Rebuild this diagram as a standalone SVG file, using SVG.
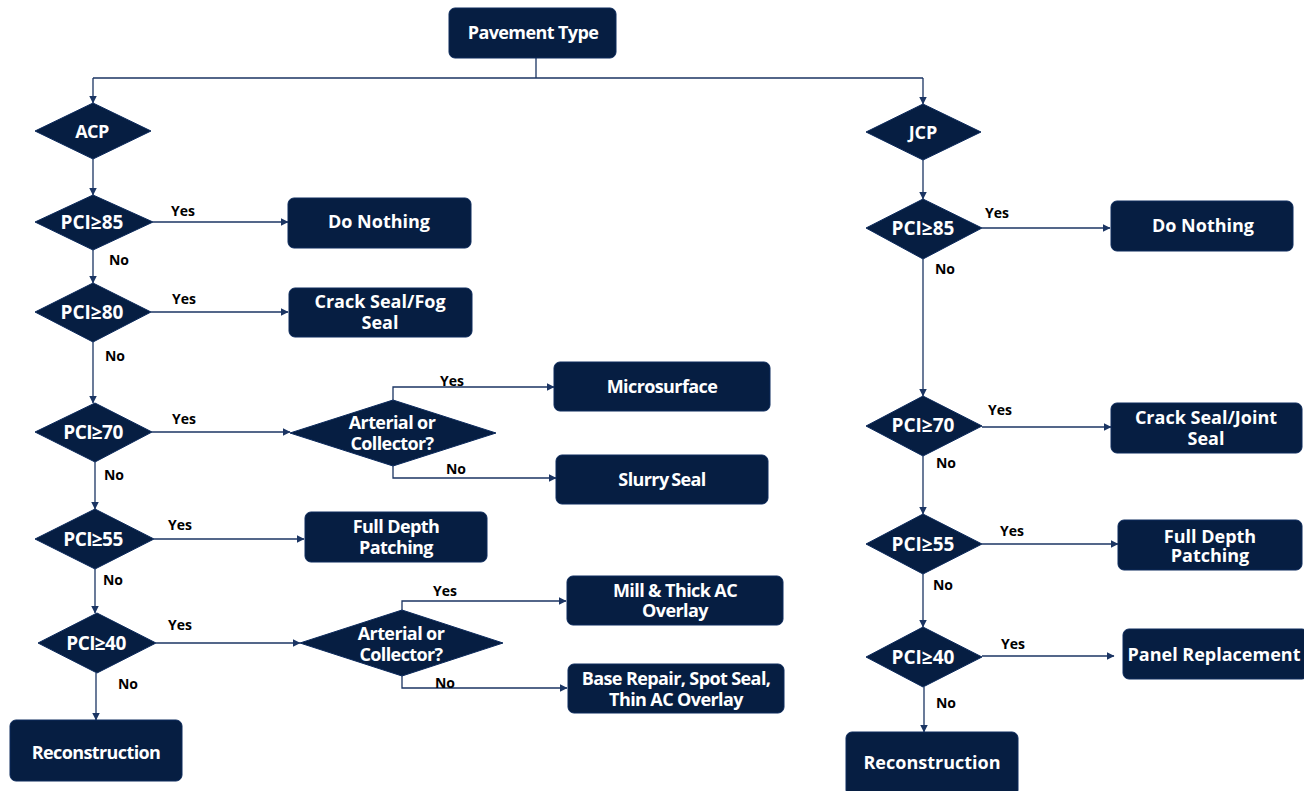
<svg xmlns="http://www.w3.org/2000/svg" width="1304" height="791" viewBox="0 0 1304 791">
<style>
.n{fill:#061e42;stroke:#0c2a5c;stroke-width:1}
.t{fill:#fff;font-family:"Open Sans","Liberation Sans",sans-serif;font-weight:700;font-size:18px;text-anchor:middle;dominant-baseline:central}
.tc{fill:#fff;font-family:"Open Sans","Liberation Sans",sans-serif;font-weight:700;font-size:18px;text-anchor:middle;dominant-baseline:central;letter-spacing:-0.6px}
.d{font-size:19px}
.l{fill:#000;font-family:"Open Sans","Liberation Sans",sans-serif;font-weight:700;font-size:14px;text-anchor:middle;dominant-baseline:central}
.c{fill:none;stroke:#1b3563;stroke-width:1.3}
</style>
<defs>
<marker id="a" markerWidth="8" markerHeight="8" refX="7.5" refY="4" orient="auto" markerUnits="userSpaceOnUse">
<path d="M0,0 L8,4 L0,8 z" fill="#1b3563"/>
</marker>
</defs>
<g id="connectors">
<path class="c" d="M536,58 V78 M93,78 H923"/>
<path class="c" d="M93,78 V103" marker-end="url(#a)"/>
<path class="c" d="M923,78 V104" marker-end="url(#a)"/>
<path class="c" d="M93,159 V195" marker-end="url(#a)"/>
<path class="c" d="M153,222 H288" marker-end="url(#a)"/>
<path class="c" d="M93,250 V283" marker-end="url(#a)"/>
<path class="c" d="M151,312 H288" marker-end="url(#a)"/>
<path class="c" d="M93,342 V403" marker-end="url(#a)"/>
<path class="c" d="M152,432 H290" marker-end="url(#a)"/>
<path class="c" d="M393,400 V387 H554" marker-end="url(#a)"/>
<path class="c" d="M393,466 V478 H556" marker-end="url(#a)"/>
<path class="c" d="M95,462 V509" marker-end="url(#a)"/>
<path class="c" d="M154,539 H304" marker-end="url(#a)"/>
<path class="c" d="M95,569 V613" marker-end="url(#a)"/>
<path class="c" d="M156,643 H300" marker-end="url(#a)"/>
<path class="c" d="M402,610 V601 H566" marker-end="url(#a)"/>
<path class="c" d="M402,676 V688 H567" marker-end="url(#a)"/>
<path class="c" d="M96,673 V720" marker-end="url(#a)"/>
<path class="c" d="M923,160 V199" marker-end="url(#a)"/>
<path class="c" d="M982,228 H1110" marker-end="url(#a)"/>
<path class="c" d="M923,259 V396" marker-end="url(#a)"/>
<path class="c" d="M982,427 H1111" marker-end="url(#a)"/>
<path class="c" d="M923,456 V514" marker-end="url(#a)"/>
<path class="c" d="M982,544 H1118" marker-end="url(#a)"/>
<path class="c" d="M923,574 V627" marker-end="url(#a)"/>
<path class="c" d="M982,656 H1114" marker-end="url(#a)"/>
<path class="c" d="M924,687 V732" marker-end="url(#a)"/>
<text class="l" x="183" y="210">Yes</text>
<text class="l" x="119" y="259">No</text>
<text class="l" x="184" y="298">Yes</text>
<text class="l" x="115" y="355">No</text>
<text class="l" x="184" y="418">Yes</text>
<text class="l" x="452" y="380">Yes</text>
<text class="l" x="456" y="468">No</text>
<text class="l" x="114" y="474">No</text>
<text class="l" x="180" y="524">Yes</text>
<text class="l" x="113" y="579">No</text>
<text class="l" x="180" y="624">Yes</text>
<text class="l" x="445" y="590">Yes</text>
<text class="l" x="445" y="682">No</text>
<text class="l" x="128" y="683">No</text>
<text class="l" x="997" y="212">Yes</text>
<text class="l" x="945" y="268">No</text>
<text class="l" x="1000" y="409">Yes</text>
<text class="l" x="946" y="462">No</text>
<text class="l" x="1012" y="530">Yes</text>
<text class="l" x="943" y="584">No</text>
<text class="l" x="1013" y="643">Yes</text>
<text class="l" x="946" y="702">No</text>
</g>
<g id="pavement-type"><rect class="n" x="449" y="8" width="167" height="50" rx="6"/><text class="tc" x="533" y="32">Pavement Type</text></g>
<g id="acp"><path class="n" d="M93,103 L151,131 L93,159 L35,131 z"/><text class="tc" x="92" y="131">ACP</text></g>
<g id="acp-pci85"><path class="n" d="M93,195 L153,222 L93,250 L35,222 z"/><text class="t d" x="92" y="222">PCI≥85</text></g>
<g id="acp-do-nothing"><rect class="n" x="288" y="198" width="183" height="50" rx="6"/><text class="t" x="379" y="221">Do Nothing</text></g>
<g id="acp-pci80"><path class="n" d="M93,283 L151,312 L93,342 L35,312 z"/><text class="t d" x="92" y="312">PCI≥80</text></g>
<g id="crack-seal-fog"><rect class="n" x="289" y="288" width="183" height="49" rx="6"/><text class="t" x="380" y="301">Crack Seal/Fog<tspan x="380" dy="21">Seal</tspan></text></g>
<g id="acp-pci70"><path class="n" d="M95,403 L152,432 L95,462 L35,432 z"/><text class="tc d" x="93" y="432">PCI≥70</text></g>
<g id="arterial-1"><path class="n" d="M393,400 L496,433 L393,466 L290,433 z"/><text class="tc" x="392" y="422">Arterial or<tspan x="392" dy="21">Collector?</tspan></text></g>
<g id="microsurface"><rect class="n" x="554" y="362" width="216" height="49" rx="6"/><text class="tc" x="662" y="386">Microsurface</text></g>
<g id="slurry-seal"><rect class="n" x="556" y="455" width="212" height="49" rx="6"/><text class="tc" x="662" y="479" style="word-spacing:-1.5px">Slurry Seal</text></g>
<g id="acp-pci55"><path class="n" d="M95,509 L154,539 L95,569 L35,539 z"/><text class="tc d" x="93" y="539">PCI≥55</text></g>
<g id="acp-full-depth"><rect class="n" x="305" y="512" width="182" height="50" rx="6"/><text class="tc" x="396" y="526">Full Depth<tspan x="396" dy="21">Patching</tspan></text></g>
<g id="acp-pci40"><path class="n" d="M97,613 L156,643 L97,673 L38,643 z"/><text class="tc d" x="96" y="643">PCI≥40</text></g>
<g id="arterial-2"><path class="n" d="M402,610 L503,643 L402,676 L300,643 z"/><text class="tc" x="401" y="633">Arterial or<tspan x="401" dy="21">Collector?</tspan></text></g>
<g id="mill-thick"><rect class="n" x="567" y="576" width="216" height="49" rx="6"/><text class="tc" x="675" y="590">Mill &amp; Thick AC<tspan x="675" dy="20">Overlay</tspan></text></g>
<g id="base-repair"><rect class="n" x="568" y="664" width="216" height="49" rx="6"/><text class="tc" x="676" y="678">Base Repair, Spot Seal,<tspan x="676" dy="21">Thin AC Overlay</tspan></text></g>
<g id="acp-reconstruction"><rect class="n" x="10" y="720" width="172" height="61" rx="6"/><text class="tc" x="96" y="752">Reconstruction</text></g>
<g id="jcp"><path class="n" d="M923,104 L981,132 L923,160 L866,132 z"/><text class="t" x="923" y="132">JCP</text></g>
<g id="jcp-pci85"><path class="n" d="M923,199 L982,228 L923,259 L866,228 z"/><text class="t d" x="923" y="228">PCI≥85</text></g>
<g id="jcp-do-nothing"><rect class="n" x="1111" y="201" width="182" height="50" rx="6"/><text class="t" x="1203" y="225">Do Nothing</text></g>
<g id="jcp-pci70"><path class="n" d="M923,396 L982,426 L923,456 L866,426 z"/><text class="t d" x="923" y="425">PCI≥70</text></g>
<g id="crack-seal-joint"><rect class="n" x="1111" y="403" width="191" height="50" rx="6"/><text class="t" x="1206" y="417">Crack Seal/Joint<tspan x="1206" dy="21">Seal</tspan></text></g>
<g id="jcp-pci55"><path class="n" d="M923,514 L982,544 L923,574 L866,544 z"/><text class="t d" x="923" y="544">PCI≥55</text></g>
<g id="jcp-full-depth"><rect class="n" x="1118" y="520" width="184" height="50" rx="6"/><text class="t" x="1210" y="536">Full Depth<tspan x="1210" dy="19">Patching</tspan></text></g>
<g id="jcp-pci40"><path class="n" d="M923,627 L982,657 L923,687 L866,657 z"/><text class="t d" x="923" y="657">PCI≥40</text></g>
<g id="panel-replacement"><rect class="n" x="1123" y="629" width="185" height="50" rx="6"/><text class="t" x="1214" y="654">Panel Replacement</text></g>
<g id="jcp-reconstruction"><rect class="n" x="846" y="732" width="172" height="64" rx="6"/><text class="t" x="932" y="762">Reconstruction</text></g>
</svg>
